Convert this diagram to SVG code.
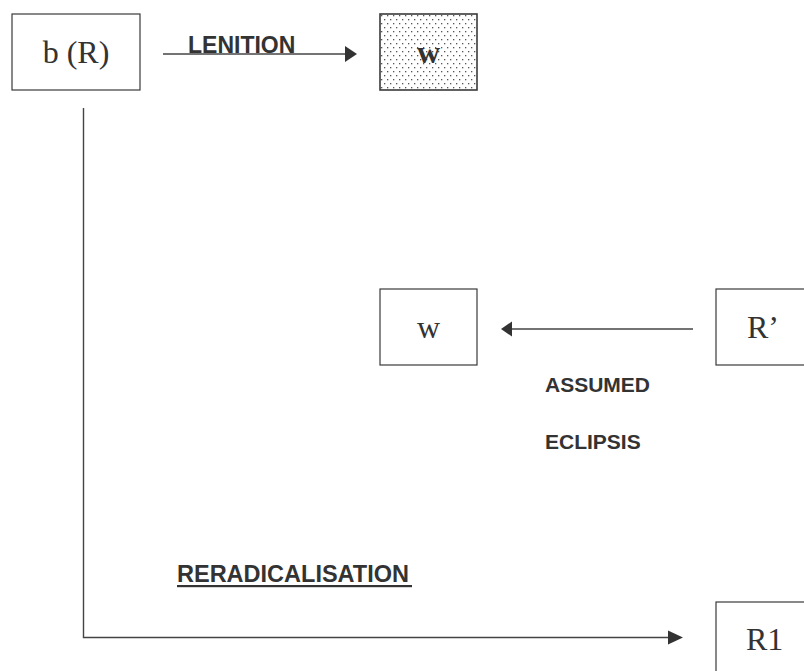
<svg xmlns="http://www.w3.org/2000/svg" width="804" height="671" viewBox="0 0 804 671">
  <style>
    .box { fill: #ffffff; stroke: #3a3a3a; stroke-width: 1.2; }
    .shaded { fill: url(#dots); stroke: #3a3a3a; stroke-width: 1.6; }
    .serif { font-family: "Liberation Serif", "Times New Roman", serif; font-size: 32px; fill: #333333; }
    .bold-serif { font-family: "Liberation Serif", "Times New Roman", serif; font-size: 32px; font-weight: bold; fill: #333333; }
    .label { font-family: "Liberation Sans", Arial, sans-serif; font-weight: bold; fill: #333333; }
    .line { fill: none; stroke: #444444; stroke-width: 1.4; }
    .head { fill: #333333; }
  </style>
  <defs>
    <pattern id="dots" x="380" y="14" width="6" height="8" patternUnits="userSpaceOnUse">
      <rect width="6" height="8" fill="#ffffff"/>
      <rect x="1" y="1" width="1.3" height="1.3" fill="#555555"/>
      <rect x="4" y="5" width="1.3" height="1.3" fill="#555555"/>
    </pattern>
  </defs>
  <rect width="804" height="671" fill="#ffffff"/>

  <g id="connectors">
    <g id="lenition">
      <line class="line" x1="163" y1="54" x2="347" y2="54"/>
      <polygon class="head" points="345,46 357,54 345,62"/>
    </g>
    <g id="reradicalisation">
      <polyline class="line" points="83.5,108 83.5,637.5 670,637.5"/>
      <polygon class="head" points="668,630.5 683,637.5 668,644.5"/>
    </g>
    <g id="eclipsis">
      <line class="line" x1="693" y1="329" x2="510" y2="329"/>
      <polygon class="head" points="512,321.5 501,329 512,336.5"/>
    </g>
  </g>

  <g id="labels">
    <text class="label" x="188" y="52.5" font-size="23">LENITION</text>
    <text class="label" x="545" y="391.5" font-size="21">ASSUMED</text>
    <text class="label" x="545" y="449" font-size="21">ECLIPSIS</text>
    <text class="label" x="177" y="582" font-size="23.5">RERADICALISATION</text>
    <rect x="177" y="585" width="235" height="2.2" fill="#333333"/>
  </g>

  <g id="node-bR">
    <rect class="box" x="12" y="14" width="128" height="76"/>
    <text class="serif" x="76" y="63" text-anchor="middle">b (R)</text>
  </g>

  <g id="node-w-lenited">
    <rect class="shaded" x="380" y="14" width="97" height="76"/>
    <text class="bold-serif" x="428.5" y="63" text-anchor="middle">w</text>
  </g>

  <g id="node-w">
    <rect class="box" x="380" y="289" width="97" height="76"/>
    <text class="serif" x="428.5" y="338" text-anchor="middle">w</text>
  </g>

  <g id="node-Rprime">
    <rect class="box" x="716" y="289" width="97" height="76"/>
    <text class="serif" x="747" y="338">R’</text>
  </g>

  <g id="node-R1">
    <rect class="box" x="716" y="602" width="97" height="76"/>
    <text class="serif" x="746" y="650">R1</text>
  </g>
</svg>
